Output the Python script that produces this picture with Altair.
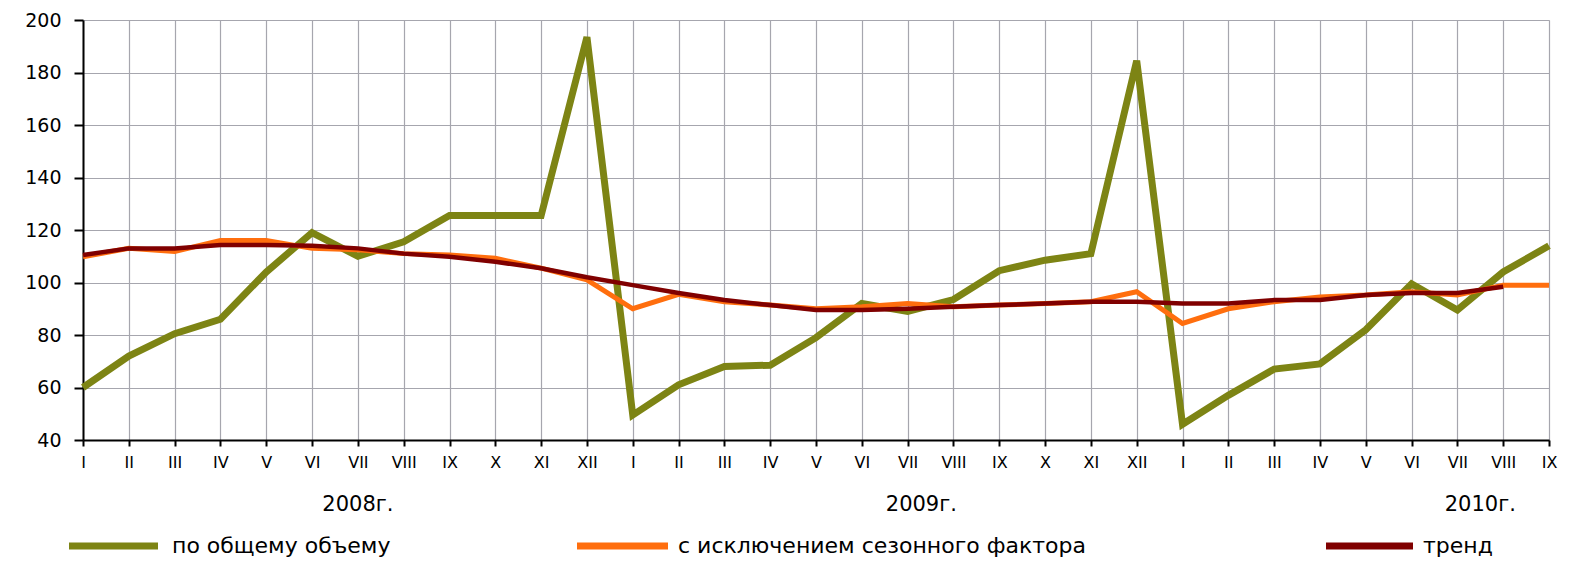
import altair as alt
import pandas as pd

months = ["I", "II", "III", "IV", "V", "VI", "VII", "VIII", "IX", "X", "XI", "XII"]

total = [60, 72, 80.5, 86, 104, 119, 110, 115.5, 125.5, 125.5, 125.5, 193.5,
         49.5, 61, 68, 68.5, 79, 92, 89, 93.5, 104.5, 108.5, 111, 184.5,
         46, 57, 67, 69, 82, 99.5, 89.5, 104, 114]
seasonal = [109.8, 113, 111.8, 116, 116, 113, 112.5, 111, 110.5, 109.2, 105.5, 101,
            90, 95.5, 92.7, 91.4, 90, 90.8, 92, 90.8, 91.4, 92, 92.7, 96.5,
            84.4, 90, 92.7, 94.5, 95.2, 96.5, 95.2, 99, 99]
trend = [110.5, 113, 113, 114.3, 114.3, 114, 113, 111, 109.8, 107.9, 105.4, 102,
         99, 96, 93.3, 91.4, 89.5, 89.5, 90, 90.8, 91.4, 92, 92.7, 92.7,
         92, 92, 93.3, 93.3, 95.2, 96, 96, 98.4]

series_names = ["по общему объему", "с исключением сезонного фактора", "тренд"]
series_colors = ["#7d8414", "#ff6e0e", "#800000"]
series_widths = [7, 5, 4.5]

years = ["2008г.", "2009г.", "2010г."]
year_pos = [6.0, 18.3, 30.5]

rows = []
for name, vals in zip(series_names, [total, seasonal, trend]):
    for i, v in enumerate(vals):
        rows.append({"i": i, "v": v, "series": name})
df = pd.DataFrame(rows)
ydf = pd.DataFrame({"year": years, "pos": year_pos})

W, H = 1466, 420
FONT = "DejaVu Sans"
GRID = "#a6a6ae"

roman_js = "[" + ",".join("'%s'" % m for m in months) + "]"

x = alt.X("i:Q", scale=alt.Scale(domain=[0, 32], nice=False, zero=False),
          axis=alt.Axis(values=list(range(33)), labelExpr=roman_js + "[datum.value % 12]",
                        title=None, grid=True, gridColor=GRID, gridWidth=1.2,
                        domainColor="#000000", domainWidth=2, tickColor="#000000",
                        tickWidth=2, tickSize=6, labelFontSize=16, labelFont=FONT,
                        labelColor="#000000", labelPadding=8, labelFlush=False,
                        labelOverlap=False))
y = alt.Y("v:Q", scale=alt.Scale(domain=[40, 200], nice=False, zero=False),
          axis=alt.Axis(values=list(range(40, 201, 20)), title=None, grid=True,
                        gridColor=GRID, gridWidth=1.2, domainColor="#000000",
                        domainWidth=2, tickColor="#000000", tickWidth=2, tickSize=9,
                        labelFontSize=19, labelFont=FONT, labelColor="#000000",
                        labelPadding=13))

color_scale = alt.Scale(domain=series_names, range=series_colors)
color = alt.Color("series:N", scale=color_scale, legend=None)

layers = []
for name, w in zip(series_names, series_widths):
    layers.append(
        alt.Chart(df).transform_filter(alt.datum.series == name)
        .mark_line(strokeWidth=w, strokeJoin="miter")
        .encode(x=x, y=y, color=color)
    )

year_text = alt.Chart(ydf).mark_text(fontSize=21, font=FONT, color="#000000",
                                     baseline="middle").encode(
    x=alt.X("pos:Q"), y=alt.value(H + 65), text="year:N")

# hand-placed legend (layout only): symbol start/end and label start, in px from plot left
legend_sym = [(-14, 75), (494, 585), (1243, 1330)]
legend_txt = [89, 595, 1340]
LEG_Y = H + 106
legend_layers = []
for name, col, (s0, s1), tx in zip(series_names, series_colors, legend_sym, legend_txt):
    ldf = pd.DataFrame({"series": [name]})
    legend_layers.append(
        alt.Chart(ldf).mark_rule(strokeWidth=7, color=col).encode(
            x=alt.value(s0), x2=alt.value(s1), y=alt.value(LEG_Y))
    )
    legend_layers.append(
        alt.Chart(ldf).mark_text(fontSize=22, font=FONT, color="#000000",
                                 align="left", baseline="middle").encode(
            x=alt.value(tx), y=alt.value(LEG_Y), text="series:N")
    )

chart = alt.layer(*layers, year_text, *legend_layers).properties(
    width=W, height=H,
    autosize=alt.AutoSizeParams(type="none"),
    padding={"left": 75, "top": 12, "right": 12, "bottom": 122},
).configure_view(stroke=None).configure(background="#ffffff")

chart.save("out.html", embed_options={"renderer": "svg", "actions": False})
